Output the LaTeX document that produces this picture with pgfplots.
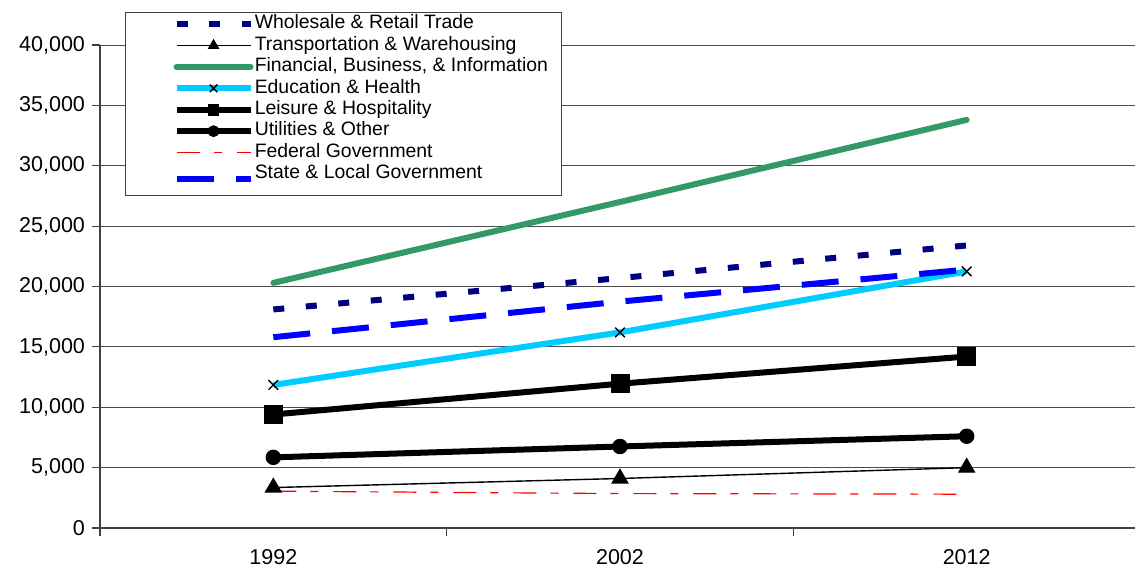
\documentclass[border=0pt]{standalone}
\usepackage{pgfplots}
\pgfplotsset{compat=1.18}
\usepackage{fontspec}
\setmainfont{Liberation Sans}
\definecolor{wsnavy}{RGB}{0,0,128}
\definecolor{fingreen}{RGB}{51,153,102}
\definecolor{edublue}{RGB}{0,204,255}
\definecolor{slblue}{RGB}{0,0,255}
\begin{document}
\begin{tikzpicture}[font=\fontsize{10.75}{12.9}\selectfont]
\begin{axis}[
  name=ax,
  scale only axis, width=520pt, height=241.5pt,
  xmin=-0.5, xmax=2.5, ymin=0, ymax=40000,
  axis x line=bottom, axis y line=left,
  axis line style={-, draw=black!75, line width=0.6pt},
  xtick={0,1,2}, xticklabels={1992,2002,2012},
  minor xtick={-0.5,0.5,1.5,2.5},
  major x tick style={draw=none},
  xticklabel style={yshift=-3pt},
  ytick={0,5000,10000,15000,20000,25000,30000,35000,40000},
  tick align=outside, major tick length=4pt, minor tick length=4pt,
  tick style={draw=black!75, line width=0.6pt},
  ymajorgrids, grid style={draw=black!70, line width=0.5pt},
  scaled y ticks=false,
  /pgf/number format/fixed,
  /pgf/number format/1000 sep={,},
  /pgf/number format/assume math mode=true,
  legend cell align=left,
  legend style={at={(0.024,1.069)}, anchor=north west, draw=black!75, line width=0.6pt, fill=white,
    inner xsep=6pt, inner ysep=0.6pt, row sep=0pt,
    font=\fontsize{9.7}{11.6}\selectfont,
    nodes={inner xsep=0.6pt, inner ysep=0pt, text height=7.7pt, text depth=3pt}},
  legend image code/.code={\path (-18pt,0pt) (0pt,0pt); \draw[mark repeat=2,mark phase=2,mark size=2.7pt] plot coordinates {(0pt,0pt) (18.5pt,0pt) (37pt,0pt)};},
]
\addplot[wsnavy, line width=3pt, dash pattern=on 5.5pt off 10.8pt] coordinates {(0,18100) (1,20700) (2,23400)};
\addlegendentry{Wholesale \& Retail Trade}
\addplot[black, line width=0.7pt, mark=triangle*, mark size=4.4pt, mark options={solid}] coordinates {(0,3350) (1,4100) (2,5000)};
\addlegendentry{Transportation \& Warehousing}
\addplot[fingreen, line width=3pt, line cap=round] coordinates {(0,20300) (1,27000) (2,33800)};
\addlegendentry{Financial, Business, \& Information}
\addplot[edublue, line width=3pt, mark=x, mark size=3.4pt, mark options={black, line width=0.7pt}] coordinates {(0,11850) (1,16200) (2,21250)};
\addlegendentry{Education \& Health}
\addplot[black, line width=3pt, mark=square*, mark size=4.5pt, mark options={line width=0.5pt}] coordinates {(0,9400) (1,11950) (2,14200)};
\addlegendentry{Leisure \& Hospitality}
\addplot[black, line width=3pt, mark=*, mark size=3.6pt, mark options={line width=0.5pt}] coordinates {(0,5850) (1,6750) (2,7600)};
\addlegendentry{Utilities \& Other}
\addplot[red, line width=0.6pt, dash pattern=on 11.5pt off 7pt on 4pt off 7.5pt] coordinates {(0,3050) (1,2850) (2,2800)};
\addlegendentry{Federal Government}
\addplot[slblue, line width=3pt, dash pattern=on 18.5pt off 11pt] coordinates {(0,15800) (1,18750) (2,21400)};
\addlegendentry[text depth=8pt]{State \& Local Government}
\end{axis}
\pgfresetboundingbox
\useasboundingbox ([xshift=-50pt,yshift=-23pt]ax.south west) rectangle ([xshift=-2.5pt,yshift=22.5pt]ax.north east);
\end{tikzpicture}
\end{document}
